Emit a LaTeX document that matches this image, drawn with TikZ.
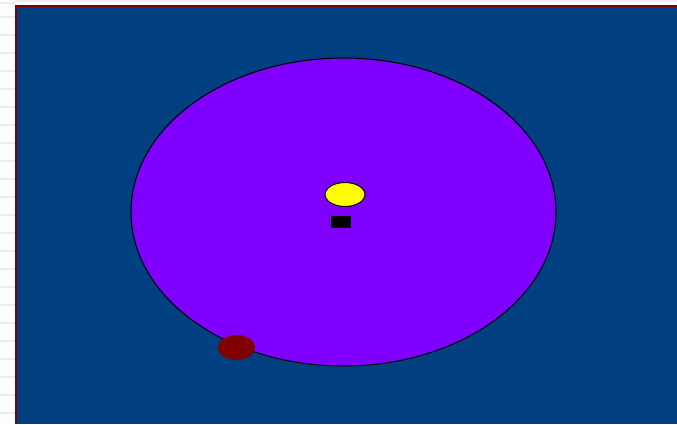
\documentclass[tikz,border=0pt]{standalone}
\usepackage{tikz}
\usetikzlibrary{shapes.geometric}
\usepackage{xcolor}
\definecolor{sky}{HTML}{004080}
\definecolor{rim}{HTML}{800000}
\definecolor{orbit}{HTML}{8000FF}
\definecolor{sun}{HTML}{FFFF00}
\definecolor{stripe}{HTML}{EDEDED}

\begin{document}
\begin{tikzpicture}[x=1pt, y=-1pt,
  disc/.style={ellipse, inner sep=0pt, outer sep=0pt},
  block/.style={rectangle, inner sep=0pt, outer sep=0pt, fill=black}
]
  \useasboundingbox (0,0) rectangle (677,424);
  \fill[white] (0,0) rectangle (677,424);
  % faint stripes in the margin
  \foreach \y in {2,16,34,52,70,88,106,124,142,160,178,196,214,232,250,268,286,304,322,340,358,376,394,412}
    \fill[stripe] (0,\y) rectangle (15,\y+2);
  \fill[stripe] (15,0) rectangle (677,2);
  \fill[rim] (15,5) rectangle (677,424);
  \fill[sky] (17,7) rectangle (677,424);

  \node[disc, draw=black, line width=1pt, fill=orbit, minimum width=425pt, minimum height=308pt] (path) at (343.5,212) {};
  \node[disc, draw=black, line width=1pt, fill=sun, minimum width=40pt, minimum height=24pt] (star) at (345,194.5) {};
  \node[block, minimum width=20pt, minimum height=12pt] (focus) at (341,222) {};
  \node[disc, fill=rim, minimum width=37pt, minimum height=25pt] (planet) at (236.5,347.5) {};
\end{tikzpicture}
\end{document}
